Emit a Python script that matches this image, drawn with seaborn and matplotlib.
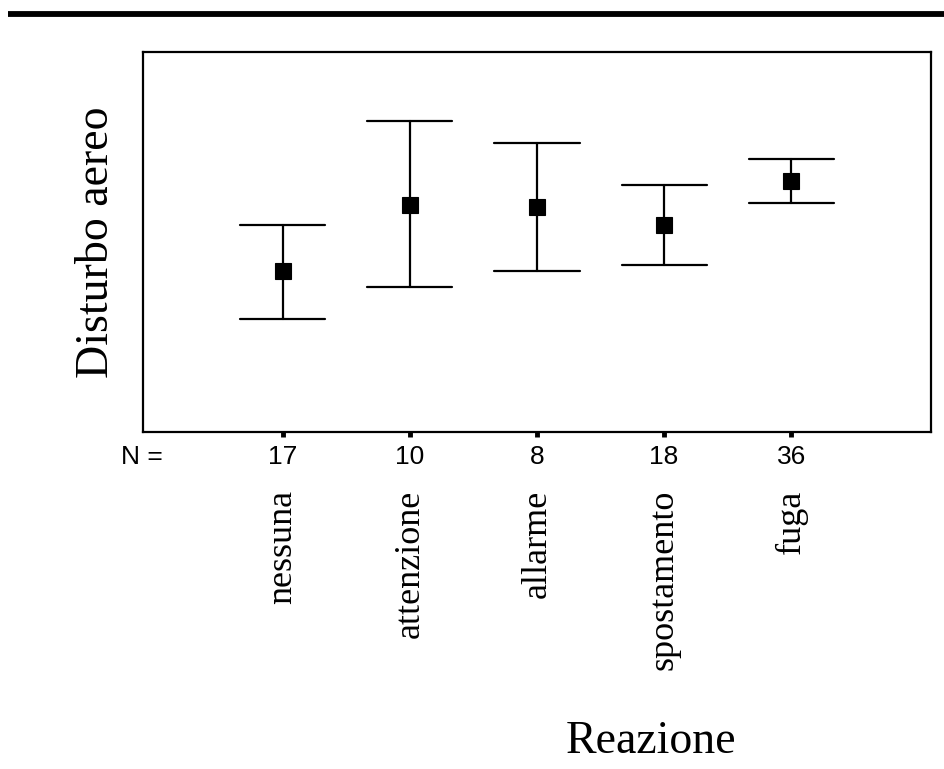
import numpy as np
import pandas as pd
import matplotlib
matplotlib.use("Agg")
import matplotlib.pyplot as plt
from matplotlib.lines import Line2D
import seaborn as sns

# Data
categories = ["nessuna", "attenzione", "allarme", "spostamento", "fuga"]
n_values = [17, 10, 8, 18, 36]
means = [1.61, 2.27, 2.25, 2.07, 2.51]
lower = [1.13, 1.45, 1.61, 1.67, 2.29]
upper = [2.07, 3.11, 2.89, 2.47, 2.73]

rows = []
for c, lo, m, hi in zip(categories, lower, means, upper):
    for v in (lo, m, hi):
        rows.append({"Reazione": c, "Disturbo aereo": v})
df = pd.DataFrame(rows)

sns.set_theme(style="white")
plt.rcParams["font.family"] = ["Liberation Serif", "DejaVu Serif"]
plt.rcParams["text.color"] = "black"
plt.rcParams["axes.labelcolor"] = "black"
plt.rcParams["xtick.color"] = "black"
plt.rcParams["xtick.labelcolor"] = "black"

W, H = 944, 769
fig = plt.figure(figsize=(W / 100, H / 100), dpi=100)
ax_l, ax_r, ax_t, ax_b = 143, 931, 52, 432
ax = fig.add_axes([ax_l / W, 1 - ax_b / H, (ax_r - ax_l) / W, (ax_b - ax_t) / H])

sns.pointplot(data=df, x="Reazione", y="Disturbo aereo", order=categories,
              estimator="median", errorbar=("pi", 100), capsize=0.67,
              color="black", marker="s", linestyle="none",
              markersize=12, markeredgewidth=0.8,
              err_kws={"linewidth": 1.6}, ax=ax)

ax.set_xlim(-1.1, 5.1)
ax.set_ylim(0, 3.8)
ax.set_yticks([])
ax.set_xticks(range(len(categories)))
ax.set_xticklabels([str(n) for n in n_values], family=["Liberation Sans", "DejaVu Sans"],
                   fontsize=19)
ax.tick_params(axis="x", direction="out", length=3.5, width=3.5, color="black",
               pad=6, bottom=True)
ax.set_xlabel("")
ax.set_ylabel("Disturbo aereo", fontsize=33, labelpad=18)
for s in ax.spines.values():
    s.set_color("black")
    s.set_linewidth(1.6)

# "N =" label
fig.text(142 / W, 1 - 445 / H, "N =", ha="center", va="top",
         family=["Liberation Sans", "DejaVu Sans"], fontsize=19)

# category names (rotated)
trans = matplotlib.transforms.blended_transform_factory(ax.transData, fig.transFigure)
for i, c in enumerate(categories):
    ax.text(i, 1 - 490 / H, c, rotation=90, ha="center", va="top",
            fontsize=26, transform=trans)

# x title
fig.text(651 / W, 1 - 753 / H, "Reazione", ha="center", va="baseline", fontsize=33)

# thick top rule
fig.add_artist(Line2D([8 / W, 1.0], [1 - 13.5 / H, 1 - 13.5 / H],
                      transform=fig.transFigure, color="black", linewidth=4.2,
                      solid_capstyle="butt"))

fig.savefig("out.png", dpi=100)
